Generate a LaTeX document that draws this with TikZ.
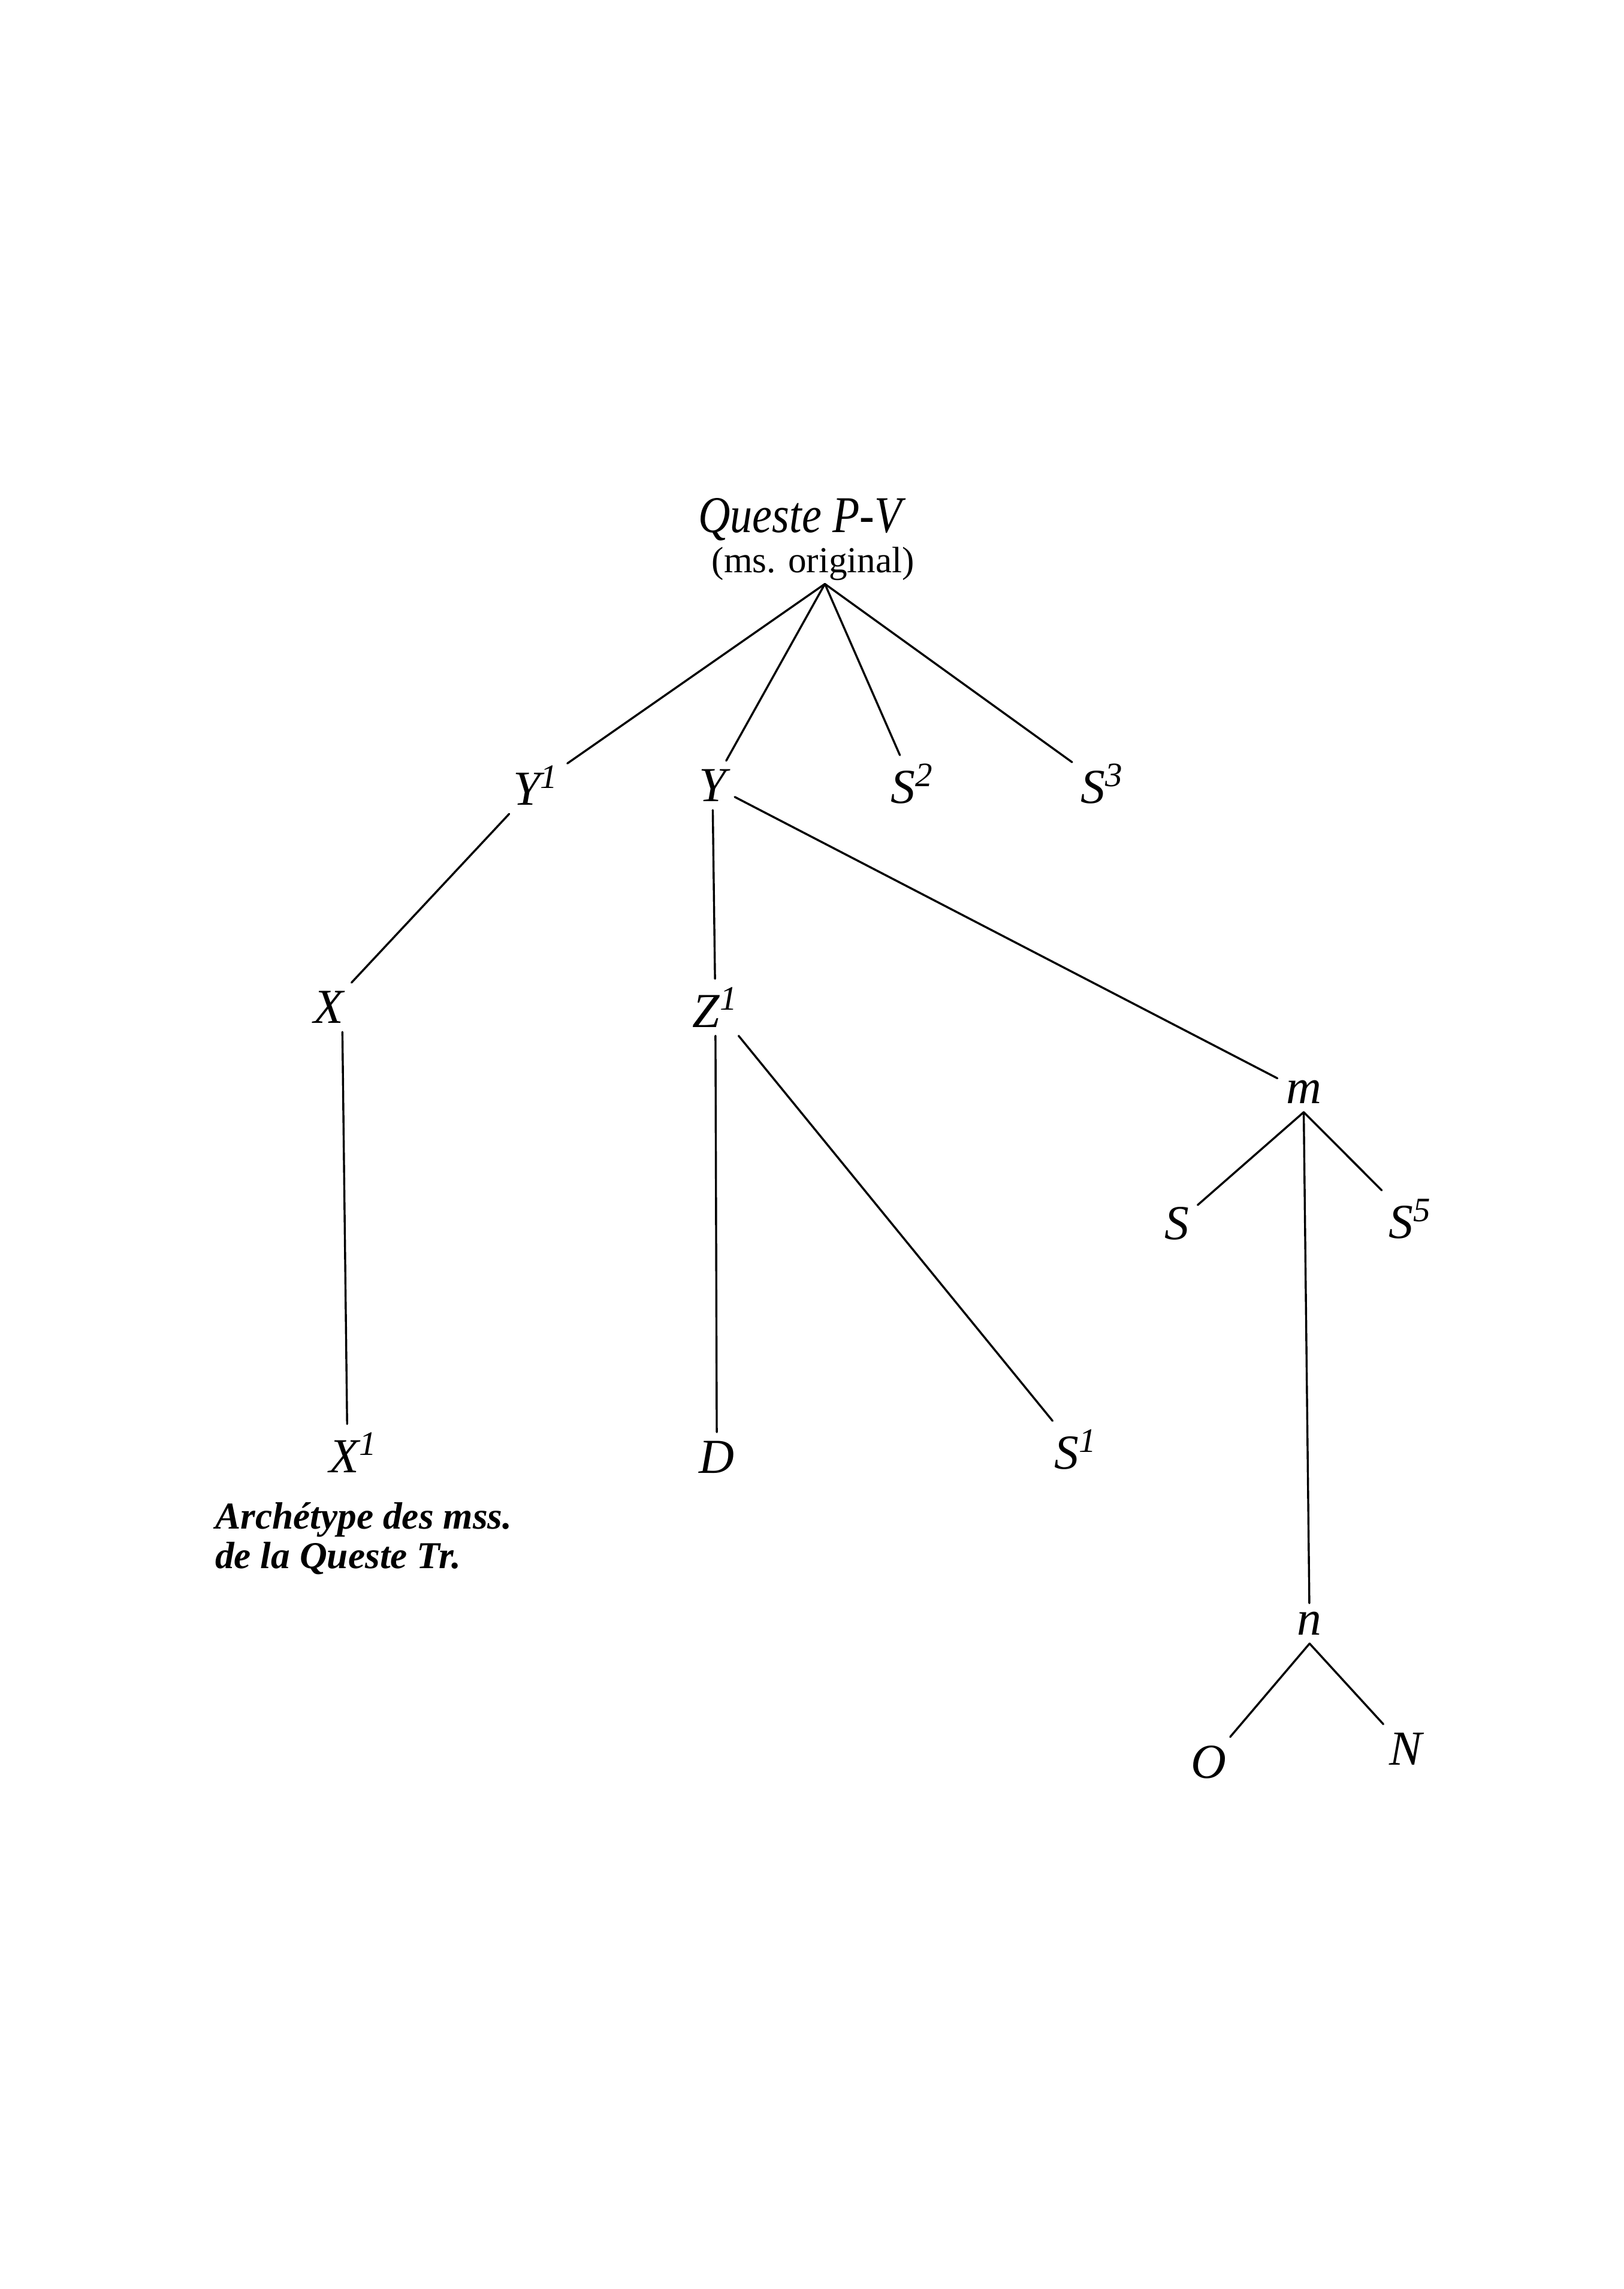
\documentclass[tikz,border=0pt]{standalone}
\usepackage{fontspec}
\setmainfont{Liberation Serif}
\newfontfamily\narrowserif[FakeStretch=0.86]{Liberation Serif}
\usepackage{tikz}
\tikzset{
  edge/.style={draw=black, line width=0.75pt, line cap=round},
  lab/.style={font=\fontsize{18}{18}\selectfont\itshape, inner sep=3pt},
  rootlab/.style={font=\fontsize{19}{19}\selectfont\narrowserif\itshape, inner sep=1pt},
  sublab/.style={font=\fontsize{13.5}{14}\selectfont, inner sep=1pt},
  notelab/.style={font=\fontsize{14}{14.5}\selectfont\bfseries\itshape, align=left, inner sep=0pt},
}

\begin{document}
\begin{tikzpicture}[x=0.018885cm, y=-0.018885cm]
  \useasboundingbox (0,0) rectangle (1112,1568);
  % top of the stemma
  \node[rootlab] (root) at (548,356) {Queste P-V};
  \node[sublab] (rootsub) at (557,386) {(ms. original)};
  \coordinate (apex) at (565,400);

  \node[lab] (Yone)   at (367,538) {Y\textsuperscript{1}};
  \node[lab] (Y)      at (488,538) {Y};
  \node[lab] (Stwo)   at (625,537) {S\textsuperscript{2}};
  \node[lab] (Sthree) at (755,537) {S\textsuperscript{3}};
  \node[lab] (X)      at (225,690) {X};
  \node[lab] (Zone)   at (490,690) {Z\textsuperscript{1}};
  \node[lab] (m)      at (893,748) {m};
  \node[lab] (S)      at (806,838) {S};
  \node[lab] (Sfive)  at (966,835) {S\textsuperscript{5}};
  \node[lab] (Xone)   at (242,995) {X\textsuperscript{1}};
  \node[lab] (D)      at (491,998) {D};
  \node[lab] (Sone)   at (737,993) {S\textsuperscript{1}};
  \node[lab] (n)      at (897,1112) {n};
  \node[lab] (O)      at (828,1207) {O};
  \node[lab] (N)      at (963,1198) {N};
  \node[notelab, anchor=north west] (note) at (147,1029)
    {Archétype des mss.\\de la Queste Tr.};

  \draw[edge] (apex) -- (Yone);
  \draw[edge] (apex) -- (Y);
  \draw[edge] (apex) -- (Stwo);
  \draw[edge] (apex) -- (Sthree);
  \draw[edge] (Yone) -- (X);
  \draw[edge] ([xshift=0.18cm]X.south) -- ([xshift=-0.08cm]Xone.north);
  \draw[edge] (Y) -- (Zone);
  \draw[edge] (Y) -- (m);
  \draw[edge] (Zone) -- (D);
  \draw[edge] (Zone) -- (Sone);
  \draw[edge] (m.south) -- (S);
  \draw[edge] (m.south) -- (Sfive);
  \draw[edge] (m.south) -- (n);
  \draw[edge] (n.south) -- (O);
  \draw[edge] (n.south) -- (N);
\end{tikzpicture}
\end{document}
